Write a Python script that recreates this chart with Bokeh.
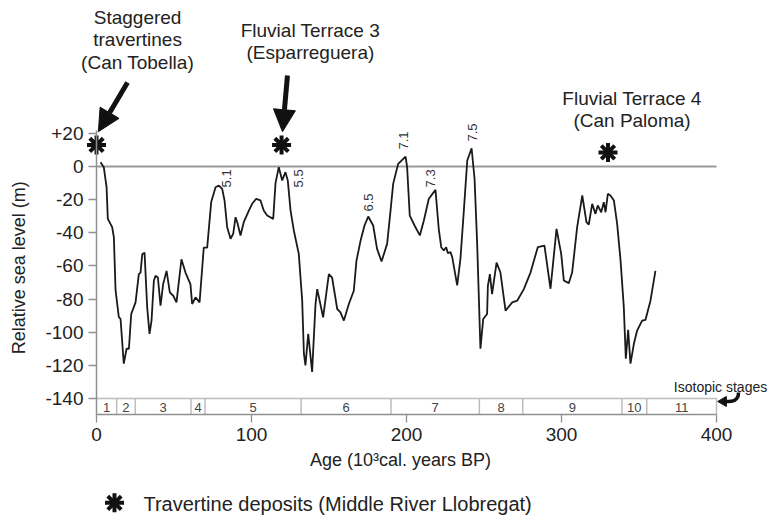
import math
from bokeh.plotting import figure
from bokeh.models import Range1d, LinearAxis, FixedTicker, Arrow, NormalHead
from bokeh.core.properties import value
from bokeh.embed import file_html
from bokeh.resources import INLINE

# ---- data ----
age = [2.6, 4.7, 6.5, 7.3, 10.1, 11.2, 12.3, 14.4, 15.5, 17.6, 19.4, 20.9, 22.4, 25.2, 27.3, 28.4,
       29.5, 31.0, 32.7, 34.2, 35.5, 37.0, 38.1, 39.6, 41.3, 43.0, 45.2, 47.3, 49.5, 51.6, 54.8,
       57.4, 60.6, 61.7, 63.9, 66.5, 69.2, 71.4, 74.0, 76.8, 78.9, 81.1, 82.6, 84.3, 86.5, 88.2,
       89.7, 90.8, 92.9, 95.0, 98.3, 100.4, 103.0, 105.8, 107.9, 110.1, 114.0, 115.5, 117.6,
       119.8, 121.9, 123.4, 125.2, 127.3, 130.5, 132.7, 133.8, 134.8, 136.6, 139.1, 141.3, 142.4,
       146.2, 149.9, 152.0, 155.3, 157.4, 159.6, 162.8, 166.0, 167.7, 170.3, 172.9, 175.3, 178.5,
       181.0, 183.9, 187.5, 189.7, 191.4, 194.6, 199.4, 200.4, 202.1, 205.2, 208.6, 211.2, 214.4,
       218.7, 220.8, 222.4, 224.1, 225.6, 226.7, 228.4, 229.5, 232.7, 234.8, 237.0, 239.2, 242.0,
       243.9, 245.6, 247.7, 249.5, 252.0, 252.5, 253.8, 255.2, 258.1, 260.6, 263.9, 268.2, 271.4,
       275.7, 280.0, 284.7, 289.0, 292.9, 296.8, 299.8, 301.5, 304.7, 306.9, 310.1, 313.4, 316.1,
       317.6, 319.8, 321.9, 323.4, 325.6, 327.3, 328.4, 329.9, 331.6, 333.8, 335.9, 338.1, 340.2,
       341.5, 343.0, 344.5, 346.7, 348.8, 352.0, 354.2, 357.4, 360.6]
sea_level = [2.6, -0.4, -12.5, -31.6, -36.6, -42.7, -74.8, -90.9, -91.9, -119, -110, -110, -89, -82,
             -65, -64, -53, -52, -85, -101, -93, -69, -66, -67, -84, -71, -63, -76, -78, -82, -56,
             -64, -71, -83, -79, -82, -49, -49, -21.5, -12.5, -11.5, -13.5, -20.5, -36.6, -43.6,
             -40.6, -30.6, -33.6, -41.6, -33.6, -26.6, -22.5, -19.5, -20.5, -26.6, -29.6, -31.6,
             -10, -0.4, -8.4, -3.4, -8.4, -26.6, -38.6, -52.7, -80.9, -113, -120, -101, -124, -83,
             -74, -91, -65, -67, -86, -88, -93, -83, -75, -57, -45, -35.6, -30.2, -35.6, -49.7,
             -57.3, -46.7, -26.6, -10.5, 1.6, 6, -0.4, -29.6, -35.6, -41.6, -32.6, -19.5, -14.1,
             -37.6, -48.7, -50.7, -48.7, -52.3, -51.7, -54.7, -71.8, -55.7, -26.6, 3.6, 11, -7.4,
             -46.7, -110, -92, -89, -72, -65, -77, -58, -64, -87, -82, -81, -74, -64, -48.7, -47.7,
             -73.8, -37.6, -52.7, -68.8, -70.4, -63.8, -36.6, -17.5, -33.6, -35, -22.5, -28.6,
             -23.5, -27.6, -21.5, -27.6, -16.5, -17.5, -20.5, -34.6, -56.7, -84.9, -116, -98.6,
             -119, -107, -99, -93, -92.5, -81, -63]

stage_bounds = [13, 25, 61, 70, 132, 190, 247, 275, 339, 355, 400]
stage_labels = ["1", "2", "3", "4", "5", "6", "7", "8", "9", "10", "11"]
stage_centers = [6.5, 19, 43, 65.5, 101, 161, 218.5, 261, 307, 347, 377.5]

x_ticks = [0, 100, 200, 300, 400]
y_ticks = [-140, -120, -100, -80, -60, -40, -20, 0, 20]
y_tick_labels = {-140: "-140", -120: "-120", -100: "-100", -80: "-80", -60: "-60",
                 -40: "-40", -20: "-20", 0: "0", 20: "+20"}

star_age = [0, 119.4, 330]
star_level = [13, 13, 8.5]

peak_labels = ["5.1", "5.5", "6.5", "7.1", "7.3", "7.5"]
peak_age = [83.9, 130.3, 175.5, 198.1, 215.5, 242.6]
peak_level = [-7.2, -7.2, -21.7, 15.7, -7.2, 20.5]

FONT = value("Liberation Sans")
TXT = "#222222"
AX = "#8f8f8f"
BOX = "#bdbdbd"
BASE = -149.4

p = figure(width=768, height=519, output_backend="svg", toolbar_location=None,
           x_range=Range1d(-61.94, 433.55), y_range=Range1d(-213.04, 100.18),
           x_axis_location=None, y_axis_location=None, min_border=0,
           background_fill_color="white", border_fill_color="white")
p.outline_line_color = None
p.xgrid.visible = False
p.ygrid.visible = False

yax = LinearAxis(fixed_location=0, bounds=(BASE, 21.7), ticker=FixedTicker(ticks=y_ticks))
yax.major_label_overrides = y_tick_labels
xax = LinearAxis(fixed_location=BASE, bounds=(0, 400), ticker=FixedTicker(ticks=x_ticks))
for ax in (xax, yax):
    ax.axis_line_color = AX
    ax.axis_line_width = 1.5
    ax.major_tick_line_color = AX
    ax.major_tick_line_width = 1.3
    ax.major_tick_in = 0
    ax.major_tick_out = 8
    ax.minor_tick_line_color = None
    ax.major_label_text_font = "Liberation Sans"
    ax.major_label_text_font_size = "19px"
    ax.major_label_text_color = TXT
    ax.major_label_standoff = 5
xax.major_label_standoff = 6
p.add_layout(yax, "left")
p.add_layout(xax, "below")

# zero line
p.line(x=[0, 400], y=[0, 0], line_color="#9a9a9a", line_width=2)

# isotopic stage box
p.line(x=[0, 400], y=[-140, -140], line_color=BOX, line_width=1.5)
p.segment(x0=stage_bounds, y0=[-140] * len(stage_bounds), x1=stage_bounds,
          y1=[BASE] * len(stage_bounds), line_color=BOX, line_width=1.5)
p.text(x=stage_centers, y=[-145.2] * len(stage_centers), text=stage_labels, text_font=FONT,
       text_font_size="13px", text_color="#444444", text_align="center", text_baseline="middle")

# sea level curve
p.line(x=age, y=sea_level, line_color="#1a1a1a", line_width=1.8)

# peak labels
p.text(x=peak_age, y=peak_level, text=peak_labels, angle=math.pi / 2, text_font=FONT,
       text_font_size="13px", text_color="#333333", text_align="center", text_baseline="middle")

# stars
def star(xs, ys, s=19, w=4):
    p.scatter(x=xs, y=ys, marker="cross", size=s, line_color="#111111", line_width=w)
    p.scatter(x=xs, y=ys, marker="x", size=s, line_color="#111111", line_width=w)
    p.scatter(x=xs, y=ys, marker="circle", size=8, fill_color="#111111", line_color=None)

star(star_age, star_level)

# annotations
ann_x = [26.5, 26.5, 26.5, 138, 138, 345.5, 345.5]
ann_y = [89.9, 76.6, 62.8, 82.1, 68.8, 41.0, 27.8]
ann_t = ["Staggered", "travertines", "(Can Tobella)", "Fluvial Terrace 3", "(Esparreguera)",
         "Fluvial Terrace 4", "(Can Paloma)"]
p.text(x=ann_x, y=ann_y, text=ann_t, text_font=FONT, text_font_size="19px", text_color=TXT,
       text_align="center", text_baseline="middle")

for (x0, y0, x1, y1) in [(20, 50.7, 1.2, 21.0), (123.2, 54.9, 120.0, 21.0)]:
    p.add_layout(Arrow(x_start=x0, y_start=y0, x_end=x1, y_end=y1, line_width=5, line_color="#111111",
                       end=NormalHead(size=22, fill_color="#111111", line_color="#111111", line_width=1)))

# axis titles
p.text(x=[-50.3], y=[-61.1], text=["Relative sea level (m)"], angle=math.pi / 2, text_font=FONT,
       text_font_size="18px", text_color=TXT, text_align="center", text_baseline="middle")
p.text(x=[196.1], y=[-177.4], text=["Age (10³cal. years BP)"], text_font=FONT,
       text_font_size="18px", text_color=TXT, text_align="center", text_baseline="middle")

# isotopic stages note
p.text(x=[402.6], y=[-132.8], text=["Isotopic stages"], text_font=FONT, text_font_size="14px",
       text_color=TXT, text_align="center", text_baseline="middle")
p.bezier(x0=[414.2], y0=[-136.4], x1=[406.0], y1=[-141.8], cx0=[414.2], cy0=[-141.8],
         cx1=[410], cy1=[-141.8], line_color="#111111", line_width=3.5)
p.scatter(x=[404.5], y=[-141.8], marker="triangle", angle=math.pi / 2, size=10,
          fill_color="#111111", line_color="#111111")

# legend
star([11.6], [-203])
p.text(x=[30.3], y=[-203.5], text=["Travertine deposits (Middle River Llobregat)"], text_font=FONT,
       text_font_size="20px", text_color=TXT, text_align="left", text_baseline="middle")

open("out.html", "w").write(file_html(p, INLINE))
